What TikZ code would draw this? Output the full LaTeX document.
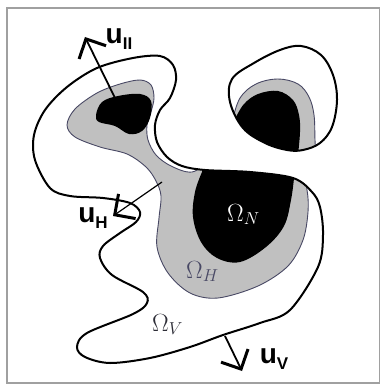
\documentclass[tikz,border=0pt]{standalone}
\usepackage{fontspec}
\newfontfamily\labelsans{Liberation Sans}
\usetikzlibrary{arrows.meta}
\definecolor{zonegray}{RGB}{192,192,192}
\definecolor{zoneedge}{RGB}{72,72,100}
\definecolor{framegray}{RGB}{160,160,160}
\definecolor{omegagray}{RGB}{45,45,55}

% velocity label: bold sans u with a lowered index
\newcommand{\velo}[1]{{\fontsize{28}{28}\selectfont u}\raisebox{-6pt}{\fontsize{17}{17}\selectfont #1}}
% outlines of the two fluid domains
\newcommand{\outerV}{plot[smooth cycle, tension=0.55] coordinates {(50,188) (35,160) (34,135) (45,110) (67,87) (97,68) (133,58) (160,56) (173,65) (176,80) (170,98) (160,110) (155,125) (157,142) (167,157) (182,166) (205,170) (250,172) (293,178) (312,192) (320,207) (323,235) (318,267) (290,310) (260,323) (223,335) (190,347) (150,358) (110,363) (85,357) (77,347) (87,333) (133,314) (147,303) (143,292) (112,275) (100,258) (103,246) (120,233) (136,222) (140,212) (130,203) (103,198) (70,196)}}
\newcommand{\outerR}{plot[smooth cycle, tension=0.6] coordinates {(280,50) (301,46) (321,55) (333,75) (337,100) (332,127) (320,143) (303,150) (287,150) (265,143) (243,128) (230,102) (232,79) (254,63)}}

\begin{document}
\begin{tikzpicture}[x=1pt, y=-1pt,
    outerline/.style={draw=black, line width=2pt},
    grayzone/.style={fill=zonegray, draw=zoneedge, line width=0.9pt},
    corezone/.style={fill=black},
    flowarrow/.style={-{Straight Barb[length=15pt, width=30pt, line width=3pt]}, line width=1.8pt},
    omegalabel/.style={anchor=base west, inner sep=0pt, font=\fontsize{26}{30}\selectfont},
    ulabel/.style={inner sep=0pt, font=\labelsans\bfseries}
]
    \useasboundingbox (0,0) rectangle (381,385);
    \draw[framegray, line width=1.5pt] (7,8) rectangle (379.5,383);

    % main domain
    \begin{scope}
        \clip \outerV;
        \path[grayzone] plot[smooth cycle, tension=0.55] coordinates {(120,84) (140,80) (151,85) (154,98) (151,112) (147,125) (148,140) (156,155) (171,166) (192,172) (215,160) (260,160) (300,168) (307,190) (308,212) (303,240) (288,266) (258,286) (218,298) (190,293) (168,273) (157,247) (159,218) (161,196) (156,181) (146,167) (127,154) (100,147) (75,137) (67,125) (75,109) (97,93)};
        \fill[corezone] (202,160) -- (295,165) -- plot[smooth, tension=0.6] coordinates {(294,178) (291,200) (284,226) (266,247) (240,262) (217,258) (201,242) (193,217) (195,192) (202,172)} -- cycle;
        \fill[corezone] plot[smooth cycle, tension=0.6] coordinates {(96,115) (102,102) (118,96) (140,94) (151,101) (150,118) (142,131) (129,134) (115,126) (99,122)};
    \end{scope}
    \draw[outerline] \outerV;

    % small domain on the right
    \begin{scope}
        \clip \outerR;
        \path[grayzone] (230,165) -- plot[smooth, tension=0.6] coordinates {(232,122) (240,98) (256,84) (278,79) (298,84) (309,97) (314,115) (315,140) (316,160)} -- cycle;
        \fill[corezone] (230,165) -- plot[smooth, tension=0.6] coordinates {(235,119) (244,104) (258,94) (278,91) (293,100) (299,115) (300,132) (298,155)} -- cycle;
    \end{scope}
    \draw[outerline] \outerR;

    % labels
    \node[omegalabel, text=white] (omegaN) at (227,221) {$\Omega_N$};
    \node[omegalabel, text=zoneedge] (omegaH) at (186,278) {$\Omega_H$};
    \node[omegalabel, text=omegagray] (omegaV) at (152,331) {$\Omega_V$};

    \node[ulabel] (labII) at (119,39) {\velo{II}};
    \node[ulabel] (labH) at (93,218) {\velo{H}};
    \node[ulabel] (labV) at (274,359) {\velo{V}};

    % velocity arrows
    \coordinate (baseII) at (117,102);
    \coordinate (tipII) at (85,37);
    \coordinate (baseH) at (162,182);
    \coordinate (tipH) at (113,216);
    \coordinate (baseV) at (225,336);
    \coordinate (tipV) at (242,371);
    \draw[flowarrow] (baseII) -- (tipII);
    \draw[flowarrow, line width=1.2pt] (baseH) -- (tipH);
    \draw[flowarrow] (baseV) -- (tipV);
\end{tikzpicture}
\end{document}
